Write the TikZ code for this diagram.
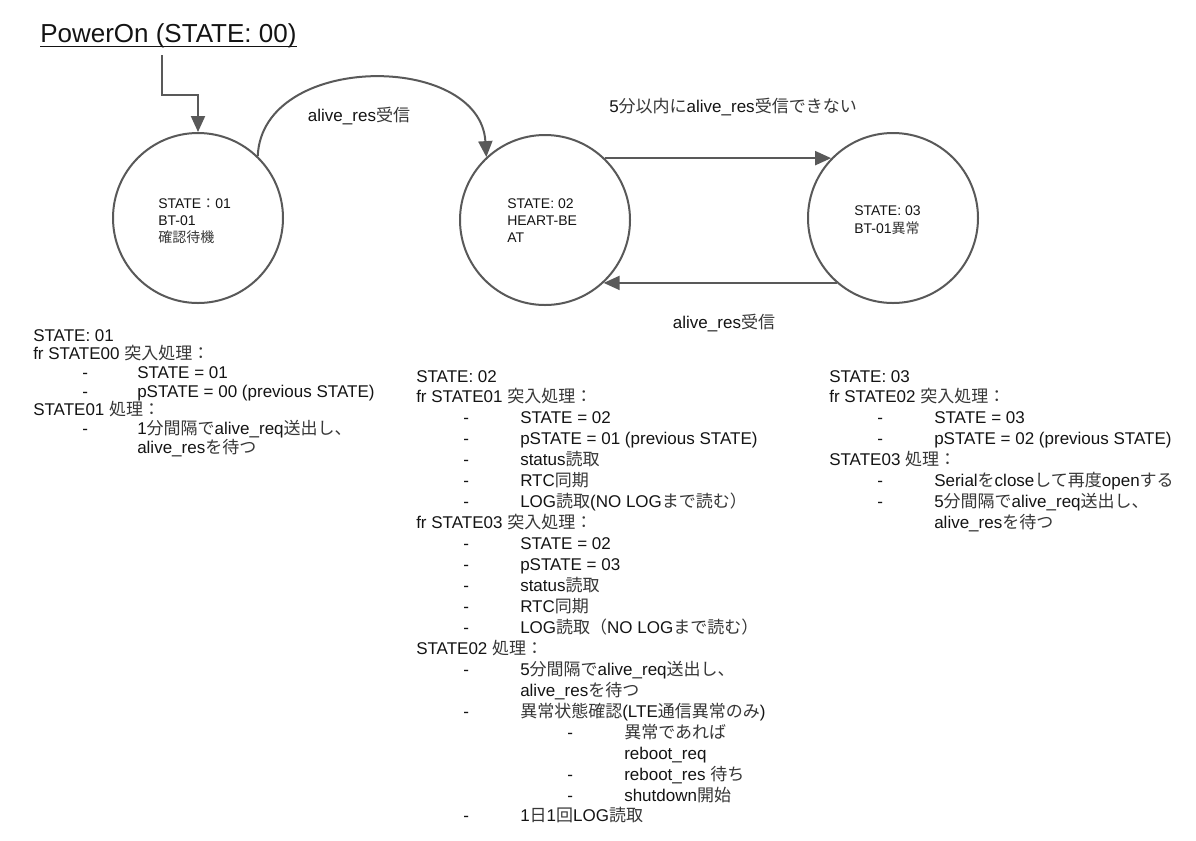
\documentclass[tikz,border=0pt]{standalone}
\usepackage{fontspec}
\setmainfont{Liberation Sans}
\newfontfamily\jpfont{Noto Sans CJK JP}
\definecolor{jpc}{RGB}{55,55,55}
\newcommand\J[1]{{\jpfont\color{jpc}#1}}
\usetikzlibrary{arrows.meta}
\definecolor{linec}{RGB}{89,89,89}
\definecolor{txtc}{RGB}{20,20,20}
\newcommand\bl[9]{%
 \ifcase#2\relax
   \node[body] (#1) at (#4,#3) {#9};
 \or
   \node[body] (#1d) at (#5,#3) {-};
   \node[body] (#1) at (#6,#3) {#9};
 \or
   \node[body] (#1) at (#6,#3) {#9};
 \or
   \node[body] (#1d) at (#7,#3) {-};
   \node[body] (#1) at (#8,#3) {#9};
 \or
   \node[body] (#1) at (#8,#3) {#9};
 \fi}
\begin{document}
\begin{tikzpicture}[x=0.75pt,y=-0.75pt,
  state/.style={circle,draw=linec,line width=1.5pt,minimum size=127.5pt,inner sep=0pt},
  conn/.style={draw=linec,line width=1.5pt,-{Triangle[length=12pt,width=10.5pt]}},
  body/.style={anchor=base west,inner sep=0pt,font=\fontsize{12.75}{15}\selectfont,text=txtc},
  ctext/.style={anchor=base west,inner sep=0pt,font=\fontsize{10.5}{12}\selectfont,text=txtc},
  lab/.style={inner sep=0pt,font=\fontsize{12.75}{15}\selectfont,text=txtc},
]
\fill[white] (0,0) rectangle (1196,840);
\useasboundingbox (0,0) rectangle (1196,840);

% title
\node[anchor=base west,inner sep=0pt,font=\fontsize{19.5}{23}\selectfont,text=txtc] (title) at (40,42) {PowerOn (STATE: 00)};
\draw[txtc,line width=1.1pt] ([yshift=-3.2pt]title.base west) -- ([yshift=-3.2pt]title.base east);

% states
\node[state] (s1) at (198,218) {};
\node[state] (s2) at (545,220) {};
\node[state] (s3) at (893,218) {};

\node[ctext] (s1a) at (158,208) {STATE\J{：}01};
\node[ctext] (s1b) at (158,225) {BT-01};
\node[ctext] (s1c) at (158,242) {\J{確認待機}};
\node[ctext] (s2a) at (507,208) {STATE: 02};
\node[ctext] (s2b) at (507,225) {HEART-BE};
\node[ctext] (s2c) at (507,242) {AT};
\node[ctext] (s3a) at (854,215) {STATE: 03};
\node[ctext] (s3b) at (854,233) {BT-01\J{異常}};

% connectors
\coordinate (pstart) at (162,55);
\draw[conn] (pstart) -- (162,95) -| (s1.north);
\draw[conn] (s1.46) .. controls (262,52) and (480,52) .. (s2.133);
\draw[conn] (s2.46) -- (s2.46 -| s3.136);
\draw[conn] (s3.-131) -- (s3.-131 -| s2.-47);

\node[lab] (l1) at (359,116) {alive\_res\J{受信}};
\node[lab] (l2) at (733,107) {5\J{分以内に}alive\_res\J{受信できない}};
\node[lab] (l3) at (724,323) {alive\_res\J{受信}};

% left block
\foreach \c/\t [count=\i] in {
  0/{STATE: 01},
  0/{fr STATE00 \J{突入処理：}},
  1/{STATE = 01},
  1/{pSTATE = 00 (previous STATE)},
  0/{STATE01 \J{処理：}},
  1/{1\J{分間隔で}alive\_req\J{送出し、}},
  2/{alive\_res\J{を待つ}}}
{
  \pgfmathsetmacro\yy{341+18.7*(\i-1)}
  \bl{L\i}{\c}{\yy}{33}{82}{137}{0}{0}{\t}
}

% middle block
\foreach \c/\t [count=\i] in {
  0/{STATE: 02},
  0/{fr STATE01 \J{突入処理：}},
  1/{STATE = 02},
  1/{pSTATE = 01 (previous STATE)},
  1/{status\J{読取}},
  1/{RTC\J{同期}},
  1/{LOG\J{読取}(NO LOG\J{まで読む）}},
  0/{fr STATE03 \J{突入処理：}},
  1/{STATE = 02},
  1/{pSTATE = 03},
  1/{status\J{読取}},
  1/{RTC\J{同期}},
  1/{LOG\J{読取（}NO LOG\J{まで読む）}},
  0/{STATE02 \J{処理：}},
  1/{5\J{分間隔で}alive\_req\J{送出し、}},
  2/{alive\_res\J{を待つ}},
  1/{\J{異常状態確認}(LTE\J{通信異常のみ})},
  3/{\J{異常であれば}},
  4/{reboot\_req},
  3/{reboot\_res \J{待ち}},
  3/{shutdown\J{開始}},
  1/{1\J{日}1\J{回}LOG\J{読取}}}
{
  \pgfmathsetmacro\yy{382+20.95*(\i-1)}
  \bl{M\i}{\c}{\yy}{416}{463}{520}{567}{624}{\t}
}

% right block
\foreach \c/\t [count=\i] in {
  0/{STATE: 03},
  0/{fr STATE02 \J{突入処理：}},
  1/{STATE = 03},
  1/{pSTATE = 02 (previous STATE)},
  0/{STATE03 \J{処理：}},
  1/{Serial\J{を}close\J{して再度}open\J{する}},
  1/{5\J{分間隔で}alive\_req\J{送出し、}},
  2/{alive\_res\J{を待つ}}}
{
  \pgfmathsetmacro\yy{382+20.9*(\i-1)}
  \bl{R\i}{\c}{\yy}{829}{877}{934}{0}{0}{\t}
}
\end{tikzpicture}
\end{document}
